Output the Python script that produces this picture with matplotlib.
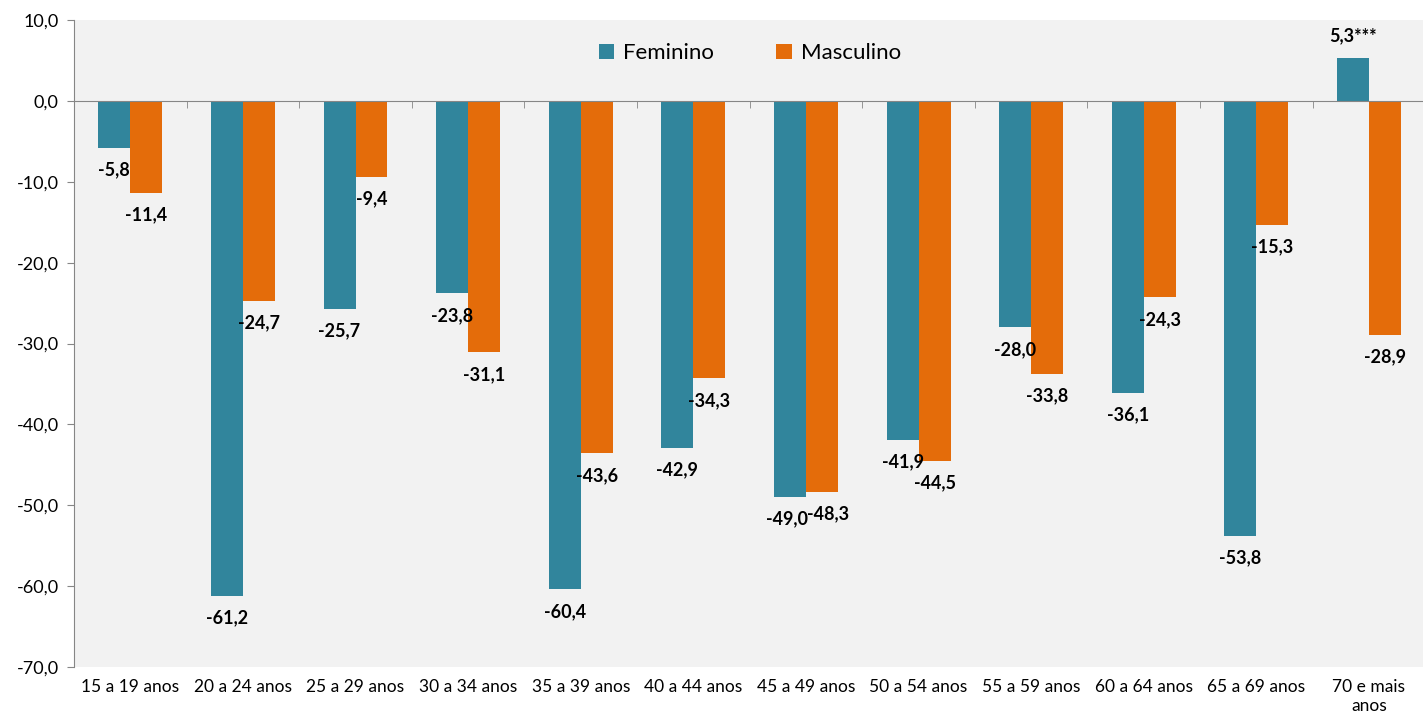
import matplotlib.pyplot as plt
import numpy as np

plt.rcParams['font.family'] = ['Lato', 'DejaVu Sans']

grupos = ["15 a 19 anos", "20 a 24 anos", "25 a 29 anos", "30 a 34 anos",
          "35 a 39 anos", "40 a 44 anos", "45 a 49 anos", "50 a 54 anos",
          "55 a 59 anos", "60 a 64 anos", "65 a 69 anos", "70 e mais\nanos"]
feminino = [-5.8, -61.2, -25.7, -23.8, -60.4, -42.9, -49.0, -41.9, -28.0, -36.1, -53.8, 5.3]
masculino = [-11.4, -24.7, -9.4, -31.1, -43.6, -34.3, -48.3, -44.5, -33.8, -24.3, -15.3, -28.9]
rotulos_f = ["-5,8", "-61,2", "-25,7", "-23,8", "-60,4", "-42,9", "-49,0", "-41,9",
             "-28,0", "-36,1", "-53,8", "5,3***"]
rotulos_m = ["-11,4", "-24,7", "-9,4", "-31,1", "-43,6", "-34,3", "-48,3", "-44,5",
             "-33,8", "-24,3", "-15,3", "-28,9"]

cor_f = "#31859C"
cor_m = "#E46C0A"
cinza = "#868686"

fig = plt.figure(figsize=(14.23, 7.25), dpi=100)
# a área do gráfico passa um pouco da borda direita, como no original
ax = fig.add_axes([0.052, 0.08, 0.9496, 0.8924])
ax.set_facecolor("#F2F2F2")

x = np.arange(len(grupos))
w = 0.284
bf = ax.bar(x - w/2, feminino, w, color=cor_f, label="Feminino")
bm = ax.bar(x + w/2, masculino, w, color=cor_m, label="Masculino")

for barras, rot, dx in [(bf, rotulos_f, -3), (bm, rotulos_m, 6)]:
    for i, (b, t) in enumerate(zip(barras, rot)):
        v = b.get_height()
        off = -22 if v < 0 else 22
        sx = dx if i == 6 else 0
        ax.annotate(t, (b.get_x() + b.get_width()/2, v), xytext=(sx, off),
                    textcoords="offset pixels",
                    ha="center", va="center", fontsize=13, fontweight="bold",
                    annotation_clip=False)

ax.set_xlim(-0.5, len(grupos) - 0.5)
ax.set_ylim(-70, 10)
ax.set_yticks(np.arange(-70, 11, 10))
ax.set_yticklabels([f"{v:.1f}".replace(".", ",") for v in np.arange(-70, 11, 10)])
ax.tick_params(axis="y", labelsize=13, length=5, color=cinza, pad=6)

for s in ["top", "right"]:
    ax.spines[s].set_visible(False)
ax.spines["left"].set_color(cinza)
ax.spines["bottom"].set_position(("data", 0))
ax.spines["bottom"].set_color(cinza)
ax.set_xticks([])
ax.set_xticks(np.arange(0.5, len(grupos) - 0.5, 1), minor=True)
ax.tick_params(axis="x", which="minor", length=5, color=cinza, direction="out")

sec = ax.secondary_xaxis(0)
sec.set_xticks(x, grupos)
sec.spines["bottom"].set_visible(False)
sec.tick_params(length=0, labelsize=12.5, pad=9)

ax.legend(loc="upper center", bbox_to_anchor=(0.5, 0.995), ncol=2, frameon=False,
          fontsize=16, handlelength=0.7, handleheight=0.7, columnspacing=2.8,
          handletextpad=0.4)

fig.savefig("out.png")
